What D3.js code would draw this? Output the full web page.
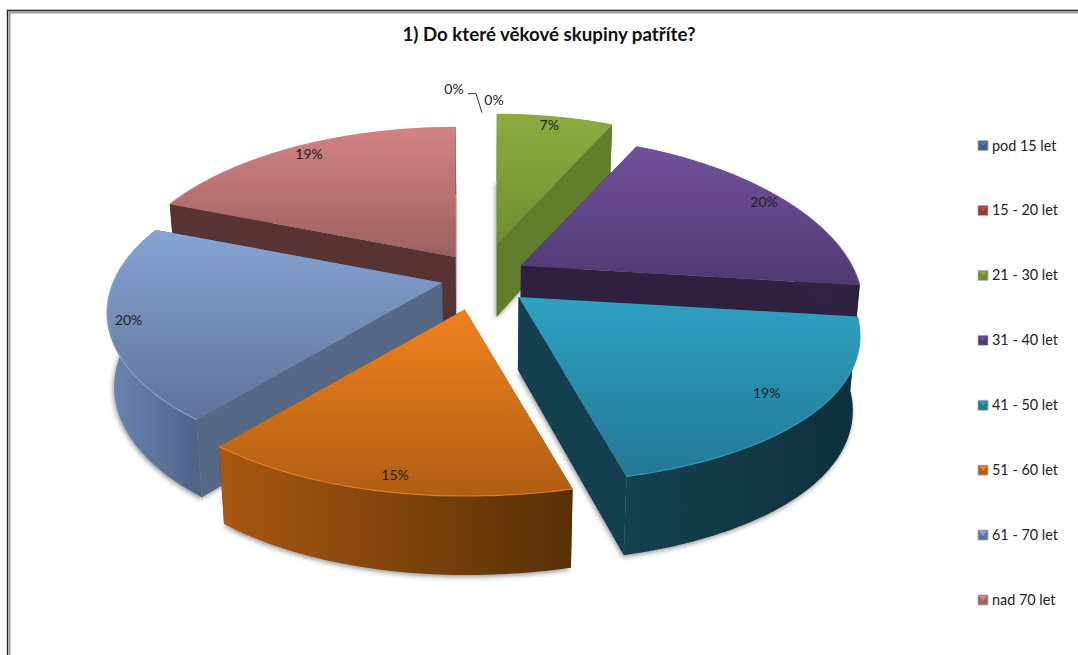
<!DOCTYPE html>
<html lang="cs">
<head>
<meta charset="utf-8">
<script src="https://cdn.jsdelivr.net/npm/d3@7"></script>
<style>
  html, body { margin: 0; background: #fff; }
  svg { display: block; }
  text { font-family: Lato, "Open Sans", sans-serif; fill: #222; }
</style>
</head>
<body>
<svg id="chart" width="1078" height="655"></svg>
<script>
// Survey results: age groups of respondents
const chartTitle = "1) Do které věkové skupiny patříte?";
const ageGroups = ["pod 15 let", "15 - 20 let", "21 - 30 let", "31 - 40 let",
                   "41 - 50 let", "51 - 60 let", "61 - 70 let", "nad 70 let"];
const shares = [0, 0, 7, 20, 19, 15, 20, 19];

// Colours per slice: top-face ramp, radial cut face, outer wall ramp
const topLight  = ["#4f81bd", "#c0504d", "#8cab3f", "#71519a", "#2fa1c2", "#f0821f", "#86a4d4", "#d38383"];
const topDark   = ["#3a6290", "#8f3b39", "#6d8f30", "#4f3a72", "#237894", "#b05e14", "#5f7299", "#9c6060"];
const cutFace   = ["#2a4668", "#652a28", "#617d2c", "#2f2040", "#143f4f", "#5e3209", "#556885", "#573333"];
const wallLight = ["#3a6290", "#8f3b39", "#617d2c", "#3a2a52", "#15424f", "#a85812", "#6c86b2", "#6e4444"];
const wallDark  = ["#2a4668", "#652a28", "#4f6624", "#2f2040", "#0e2f3b", "#573007", "#506488", "#573333"];

// Layout of the tilted pie
const width = 1078, height = 655;
const center = { x: 483, y: 277.5 };
const radiusRight = 331, radiusLeft = 329, radiusY = 153;
const perspectiveRight = 0.245, perspectiveLeft = 0.19, perspectiveY = 0.18;
const explode = 0.14, explodeStretchY = 1.35;
const depthBase = 73, depthSlope = 6, taper = 0.019;
const labelReach = [0, 0, 0.92, 0.93, 0.86, 0.93, 0.94, 0.92];
const labelNudge = [0, 0, -2, 0, 0, 11, 0, 2];
const apexNudge = [[0, 0], [0, 0], [4, -6], [-2, 2], [0, 0], [-8, 3], [4, -2], [-2, 3]];
const paintOrder = [7, 2, 3, 6, 4, 5];

const svg = d3.select("#chart");
const defs = svg.append("defs");

// Screen offset of a point on the unit disc, angle clockwise from 12 o'clock
function project(angle, r) {
  const x = r * Math.sin(angle), y = -r * Math.cos(angle);
  const wx = x < 0 ? radiusLeft / (1 - perspectiveLeft * y) : radiusRight / (1 - perspectiveRight * y);
  return [wx * x, radiusY * y / (1 - perspectiveY * y)];
}
const slices = d3.pie().sort(null).value(d => d).startAngle(0).endAngle(2 * Math.PI)(shares)
  .map((s, i) => {
    const mid = (s.startAngle + s.endAngle) / 2;
    const o = project(mid, explode);
    return { ...s, i, mid, apex: [center.x + o[0] + apexNudge[i][0], center.y + o[1] * explodeStretchY + apexNudge[i][1]] };
  });

// A top-surface point of a slice
const topPoint = (s, angle, r) => {
  const p = project(angle, r);
  return { p: [s.apex[0] + p[0], s.apex[1] + p[1]], depth: -Math.cos(angle) * r };
};
// The same point on the underside
const underside = q => [
  q.p[0] - (q.p[0] - center.x) * taper,
  q.p[1] + depthBase + depthSlope * q.depth
];
const path = d3.line().curve(d3.curveLinearClosed);
const arcPoints = s => d3.range(0, 61).map(k =>
  topPoint(s, s.startAngle + (s.endAngle - s.startAngle) * k / 60, 1));

const grad = (id, x1, y1, x2, y2, from, to, units) => {
  const g = defs.append("linearGradient").attr("id", id)
    .attr("x1", x1).attr("y1", y1).attr("x2", x2).attr("y2", y2);
  if (units) g.attr("gradientUnits", units);
  g.append("stop").attr("offset", 0).attr("stop-color", from);
  g.append("stop").attr("offset", 1).attr("stop-color", to);
};
defs.append("filter").attr("id", "soft")
  .attr("x", "-10%").attr("y", "-10%").attr("width", "120%").attr("height", "120%")
  .append("feGaussianBlur").attr("stdDeviation", 2.6);

// Window frame
svg.append("path").attr("d", `M7.5,${height} V10.5 H${width}`)
  .attr("fill", "none").attr("stroke", "#222").attr("stroke-width", 1.4);
svg.append("path").attr("d", `M9.5,${height} V12.5 H${width}`)
  .attr("fill", "none").attr("stroke", "#9a9a9a").attr("stroke-width", 2);

svg.append("text").attr("x", 549).attr("y", 41).attr("text-anchor", "middle")
  .attr("font-size", 18.7).attr("font-weight", 700).style("fill", "#111").text(chartTitle);

const ordered = paintOrder.map(i => slices[i]);
const pie = svg.append("g");

// Soft contact shadows beneath every slice
pie.selectAll("path.shadow").data(ordered).join("path")
  .attr("class", "shadow")
  .attr("fill", "#555").attr("opacity", 0.6).attr("filter", "url(#soft)")
  .attr("transform", "translate(-1,2)")
  .attr("d", s => {
    const apex = topPoint(s, 0, 0);
    return path([underside(apex), ...arcPoints(s).map(underside)]);
  });

ordered.forEach(s => {
  const g = pie.append("g");
  const rim = arcPoints(s);
  const apex = topPoint(s, 0, 0);
  const xs = rim.map(q => q.p[0]);
  grad(`top${s.i}`, 0, 0, 0, 1, topLight[s.i], topDark[s.i]);
  grad(`wall${s.i}`, d3.min(xs), 0, d3.max(xs), 0, wallLight[s.i], wallDark[s.i], "userSpaceOnUse");

  const quad = (a, b) => [a.p, b.p, underside(b), underside(a)];
  const walls = [
    { pts: quad(apex, rim[0]), fill: cutFace[s.i], key: rim[0].depth / 2 },
    { pts: quad(apex, rim[60]), fill: cutFace[s.i], key: rim[60].depth / 2 },
    { pts: [...rim.map(q => q.p), ...rim.map(underside).reverse()],
      fill: `url(#wall${s.i})`, key: Math.max(rim[0].depth, rim[60].depth, rim[30].depth) }
  ].sort((a, b) => a.key - b.key);
  walls.forEach(w => g.append("path").attr("d", path(w.pts)).attr("fill", w.fill));

  g.append("path").attr("d", path([apex.p, ...rim.map(q => q.p)])).attr("fill", `url(#top${s.i})`);
  // Bevel highlight along the outer edge
  g.append("path").attr("d", d3.line()(rim.map(q => q.p)))
    .attr("fill", "none").attr("stroke", topLight[s.i]).attr("stroke-width", 1.2).attr("opacity", 0.9);
});

// Percentage labels on the slices
const percent = v => `${v}%`;
ordered.forEach(s => {
  const q = topPoint(s, s.mid, labelReach[s.i]);
  svg.append("text").attr("x", q.p[0] + labelNudge[s.i]).attr("y", q.p[1] + 4.5).attr("text-anchor", "middle")
    .attr("font-size", 14).text(percent(s.value));
});

// The two empty groups get their labels beside a leader line at 12 o'clock
const topAnchor = topPoint(slices[0], 0, 1).p;
svg.append("path")
  .attr("d", d3.line()([[topAnchor[0] - 15, topAnchor[1] - 26], [topAnchor[0] - 7, topAnchor[1] - 26], [topAnchor[0] - 1, topAnchor[1] - 7]]))
  .attr("fill", "none").attr("stroke", "#333").attr("stroke-width", 1);
svg.append("text").attr("x", topAnchor[0] - 29).attr("y", topAnchor[1] - 26).attr("text-anchor", "middle")
  .attr("font-size", 14).text(percent(shares[0]));
svg.append("text").attr("x", topAnchor[0] + 11).attr("y", topAnchor[1] - 15).attr("text-anchor", "middle")
  .attr("font-size", 14).text(percent(shares[1]));

// Legend
const legendY = d3.scalePoint().domain(ageGroups).range([145.5, 600]);
const legend = svg.selectAll("g.legend").data(ageGroups).join("g")
  .attr("class", "legend")
  .attr("transform", d => `translate(978,${legendY(d)})`);
legend.append("rect").attr("x", 0).attr("y", -5).attr("width", 10).attr("height", 10)
  .attr("fill", (d, i) => topDark[i]).attr("stroke", "#b5b5b5").attr("stroke-width", 0.8);
legend.append("path").attr("d", "M1,-4 H9 L5,1 Z")
  .attr("fill", (d, i) => topLight[i]);
legend.append("text").attr("x", 14).attr("y", 5).attr("font-size", 14.4).text(d => d);
</script>
</body>
</html>
